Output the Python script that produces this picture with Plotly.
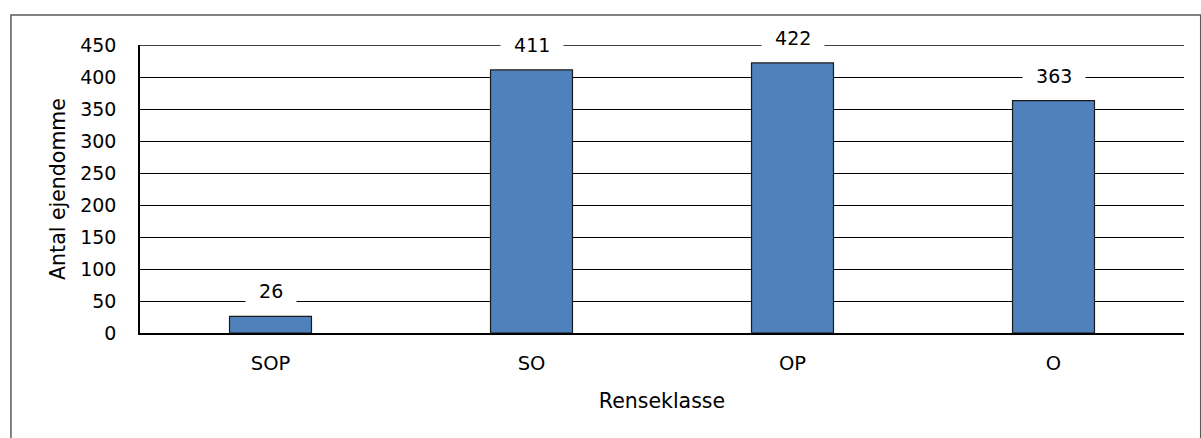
import plotly.graph_objects as go

# Antal ejendomme pr. renseklasse
categories = ["SOP", "SO", "OP", "O"]
counts = [26, 411, 422, 363]
y_ticks = [0, 50, 100, 150, 200, 250, 300, 350, 400, 450]

FONT = "DejaVu Sans"
FS_NUM = 19
FS_CAT = 19.5
FS_TITLE = 20.5
BAR_FILL = "#4F81BD"
BAR_EDGE = "#1a1a1a"

fig = go.Figure()
fig.add_trace(go.Bar(
    x=categories,
    y=counts,
    width=0.314,
    marker=dict(color=BAR_FILL, line=dict(color=BAR_EDGE, width=1.2)),
    showlegend=False,
    hoverinfo="x+y",
))

# Gridline at the top of the value range
fig.add_shape(
    type="line", xref="paper", yref="y",
    x0=0, x1=1, y0=y_ticks[-1], y1=y_ticks[-1],
    line=dict(color="black", width=1.3),
    layer="below",
)

# Value labels on white boxes, masking the gridlines behind them
for cat, val in zip(categories, counts):
    fig.add_annotation(
        x=cat, y=val, xref="x", yref="y",
        text=f"\u00a0\u00a0{val}\u00a0\u00a0",
        showarrow=False,
        yanchor="middle", yshift=25,
        bgcolor="white",
        borderpad=1,
        font=dict(family=FONT, size=FS_NUM, color="black"),
    )

# Outer frame of the chart
fig.add_shape(
    type="rect", xref="paper", yref="paper",
    x0=-0.1236, x1=1.016, y0=-0.40, y1=1.104,
    line=dict(color="#595959", width=1.5),
    fillcolor="rgba(0,0,0,0)",
    layer="below",
)

fig.update_layout(
    width=1201, height=438,
    margin=dict(l=140, r=17, t=45, b=105),
    paper_bgcolor="white",
    plot_bgcolor="white",
    font=dict(family=FONT, size=FS_NUM, color="black"),
    bargap=0.686,
    xaxis=dict(
        title=dict(text="Renseklasse", font=dict(family=FONT, size=FS_TITLE), standoff=19),
        showline=True, linecolor="black", linewidth=1.5,
        showgrid=False, ticks="", ticklabelstandoff=12,
        tickfont=dict(family=FONT, size=FS_CAT),
    ),
    yaxis=dict(
        title=dict(text="Antal ejendomme", font=dict(family=FONT, size=FS_TITLE), standoff=9),
        range=[0, 450],
        tickvals=y_ticks,
        showline=True, linecolor="black", linewidth=1.5,
        showgrid=True, gridcolor="black", gridwidth=1,
        zeroline=False,
        ticks="", ticklabelstandoff=18,
        tickfont=dict(family=FONT, size=FS_NUM),
    ),
)

fig.write_html("out.html")
